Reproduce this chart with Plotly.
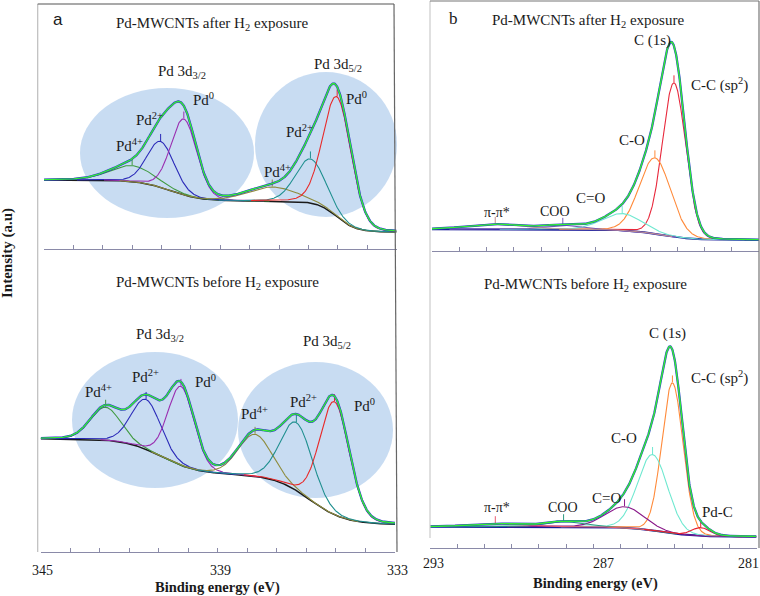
import numpy as np
import plotly.graph_objects as go

# ------------------------------------------------------------------ data
# Panel a (Pd 3d) - after H2 exposure: fitted components (centre eV, height a.u., FWHM eV)
A_AFTER_NAMES = ["Pd4+ 3d3/2", "Pd2+ 3d3/2", "Pd0 3d3/2", "Pd4+ 3d5/2", "Pd2+ 3d5/2", "Pd0 3d5/2"]
A_AFTER_CENTER = [342.0, 341.03, 340.24, 337.23, 335.93, 335.02]
A_AFTER_HEIGHT = [16, 46, 76, 14, 44, 120]
A_AFTER_FWHM = [1.8, 1.1, 1.05, 2.0, 1.2, 1.13]
A_AFTER_BG_LOW = 17
A_AFTER_BG_STEP_E = [335.04, 340.72]
A_AFTER_BG_STEP_W = [0.33, 0.52]
A_AFTER_BG_STEP_H = [31, 21]

# Panel a - before H2 exposure
A_BEFORE_NAMES = A_AFTER_NAMES
A_BEFORE_CENTER = [342.8, 341.43, 340.25, 337.74, 336.34, 335.05]
A_BEFORE_HEIGHT = [33, 50, 79, 42, 68, 113]
A_BEFORE_FWHM = [1.2, 1.18, 1.05, 1.35, 1.29, 1.18]
A_BEFORE_BG_LOW = 27.4
A_BEFORE_BG_STEP_E = [335.9, 340.92]
A_BEFORE_BG_STEP_W = [0.6, 0.61]
A_BEFORE_BG_STEP_H = [50.3, 35.6]

# Panel b (C 1s) - after H2 exposure
B_AFTER_NAMES = ["C-C (sp2)", "C-O", "C=O", "COO", "pi-pi*"]
B_AFTER_CENTER = [284.12, 284.82, 286.02, 288.2, 290.68]
B_AFTER_HEIGHT = [154, 76, 16.7, 4, 5]
B_AFTER_FWHM = [1.0, 1.35, 1.73, 1.6, 2.5]
B_AFTER_BG_LOW = 10.5
B_AFTER_BG_STEP_E = [284.64]
B_AFTER_BG_STEP_W = [0.6]
B_AFTER_BG_STEP_H = [10.7]

# Panel b - before H2 exposure
B_BEFORE_NAMES = ["C-C (sp2)", "C-O", "C=O", "COO", "pi-pi*", "Pd-C"]
B_BEFORE_CENTER = [284.09, 284.82, 285.85, 288.09, 290.6, 283.05]
B_BEFORE_HEIGHT = [150.5, 76, 21, 5, 3, 8.3]
B_BEFORE_FWHM = [0.92, 1.3, 1.66, 1.6, 2.2, 0.8]
B_BEFORE_BG_LOW = 11.3
B_BEFORE_BG_STEP_E = [284.53]
B_BEFORE_BG_STEP_W = [0.6]
B_BEFORE_BG_STEP_H = [10]

A_TICKS = list(range(345, 332, -1))
A_TICK_LABELS = [345, 339, 333]
B_TICKS = list(range(293, 280, -1))
B_TICK_LABELS = [293, 287, 281]

# ------------------------------------------------------------------ style
W, H = 760, 596
SERIF = "Liberation Serif, Times New Roman, serif"
A_COLORS = ["#3f9a3f", "#2a2ab8", "#9a2fb0", "#8e8c3e", "#1f8f8f", "#e82a2a"]
B_AFTER_COLORS = ["#e8283c", "#ff8a3a", "#6fe8d0", "#7a5ab8", "#c09090"]
B_BEFORE_COLORS = ["#ff8a3a", "#6fe8d0", "#8a1a8a", "#2a9a80", "#e85a70", "#e82030"]


def fx(x):
    return x / W


def fy(y):
    return 1 - y / H


def gl(e, c, h, w, m):
    d = (e - c) / w
    return h * ((1 - m) * np.exp(-4 * np.log(2) * d * d) + m / (1 + 4 * d * d))


def background(e, low, se, sw, sh):
    b = np.full_like(e, float(low))
    for c, w, h in zip(se, sw, sh):
        b = b + h / (1 + np.exp(-(e - c) / w))
    return b


fig = go.Figure()


def add_panel(xa, ya, erange, centers, heights, fwhms, colors, bg, mix, bgcolor, bgwidth, datacolor):
    e = np.linspace(erange[0], erange[1], 900)
    base = background(e, *bg)
    total = base.copy()
    comps = []
    for c, h, w, col in zip(centers, heights, fwhms, colors):
        p = gl(e, c, h, w, mix)
        total = total + p
        mask = np.abs(e - c) < 2.6 * w
        comps.append((e[mask], (base + p)[mask], col, c, h))
    fig.add_trace(go.Scatter(x=e, y=base, mode="lines", xaxis=xa, yaxis=ya,
                             line=dict(color=bgcolor, width=bgwidth), hoverinfo="skip"))
    for ex, yy, col, c, h in comps:
        fig.add_trace(go.Scatter(x=ex, y=yy, mode="lines", xaxis=xa, yaxis=ya,
                                 line=dict(color=col, width=1.1), hoverinfo="skip"))
        bc = background(np.array([c]), *bg)[0]
        fig.add_trace(go.Scatter(x=[c], y=[bc + h + 4], mode="markers", xaxis=xa, yaxis=ya,
                                 marker=dict(symbol="line-ns", size=5, line=dict(color=col, width=1)),
                                 hoverinfo="skip"))
    fig.add_trace(go.Scatter(x=e, y=total, mode="lines", xaxis=xa, yaxis=ya,
                             line=dict(color=datacolor, width=2.3), hoverinfo="skip"))
    fig.add_trace(go.Scatter(x=e, y=total, mode="lines", xaxis=xa, yaxis=ya,
                             line=dict(color="#33ee33", width=1.4), hoverinfo="skip"))


add_panel("x", "y", (345, 333), A_AFTER_CENTER, A_AFTER_HEIGHT, A_AFTER_FWHM, A_COLORS,
          (A_AFTER_BG_LOW, A_AFTER_BG_STEP_E, A_AFTER_BG_STEP_W, A_AFTER_BG_STEP_H), 0.1,
          "#1a1a1a", 1.5, "#2a2ad0")
add_panel("x2", "y2", (345, 333), A_BEFORE_CENTER, A_BEFORE_HEIGHT, A_BEFORE_FWHM, A_COLORS,
          (A_BEFORE_BG_LOW, A_BEFORE_BG_STEP_E, A_BEFORE_BG_STEP_W, A_BEFORE_BG_STEP_H), 0.1,
          "#1a1a1a", 1.5, "#2a2ad0")
add_panel("x3", "y3", (293, 281), B_AFTER_CENTER, B_AFTER_HEIGHT, B_AFTER_FWHM, B_AFTER_COLORS,
          (B_AFTER_BG_LOW, B_AFTER_BG_STEP_E, B_AFTER_BG_STEP_W, B_AFTER_BG_STEP_H), 0.05,
          "#1a1a9a", 2.0, "#2a40c8")
add_panel("x4", "y4", (293, 281), B_BEFORE_CENTER, B_BEFORE_HEIGHT, B_BEFORE_FWHM, B_BEFORE_COLORS,
          (B_BEFORE_BG_LOW, B_BEFORE_BG_STEP_E, B_BEFORE_BG_STEP_W, B_BEFORE_BG_STEP_H), 0.05,
          "#1a1a9a", 2.0, "#2a40c8")


def xaxis(dom, rng, ticks, anchor):
    return dict(domain=[fx(dom[0]), fx(dom[1])], range=list(rng), showline=True,
                linecolor="#8a8aa8", linewidth=1, ticks="inside", ticklen=4,
                tickcolor="#8a8aa8", tickvals=ticks, ticktext=[""] * len(ticks),
                showticklabels=False, showgrid=False, zeroline=False, automargin=False,
                fixedrange=True, anchor=anchor)


def yaxis(anchor, top, bottom):
    return dict(domain=[fy(bottom), fy(top)], range=[0, bottom - top], visible=False,
                anchor=anchor, fixedrange=True, automargin=False)


fig.update_layout(
    width=W, height=H, margin=dict(l=0, r=0, t=0, b=0, autoexpand=False),
    paper_bgcolor="white", plot_bgcolor="rgba(0,0,0,0)", showlegend=False,
    xaxis=xaxis((44, 396.5), (345, 333), A_TICKS, "y"),
    yaxis=yaxis("x", 4, 249),
    xaxis2=xaxis((40.7, 395), (345, 333), A_TICKS, "y2"),
    yaxis2=yaxis("x2", 256, 552),
    xaxis3=xaxis((432, 759), (293, 281), B_TICKS, "y3"),
    yaxis3=yaxis("x3", 1, 250.5),
    xaxis4=xaxis((430, 756.5), (293, 281), B_TICKS, "y4"),
    yaxis4=yaxis("x4", 256, 548),
)

ELL = "rgba(190,214,240,0.85)"
shapes = []
for x0, x1, y0, y1 in [(80, 254, 88, 218), (255, 397, 72, 217), (72, 238, 352, 488), (238, 393, 362, 498)]:
    shapes.append(dict(type="circle", xref="paper", yref="paper", x0=fx(x0), x1=fx(x1),
                       y0=fy(y1), y1=fy(y0), fillcolor=ELL, line=dict(width=0), layer="below"))


def line(x0, y0, x1, y1, col, w=1.2):
    shapes.append(dict(type="line", xref="paper", yref="paper", x0=fx(x0), y0=fy(y0),
                       x1=fx(x1), y1=fy(y1), line=dict(color=col, width=w)))


line(37.7, 4, 37.7, 552, "#bdbdbd")
line(37.7, 4, 394, 4, "#555555")
line(394, 4, 397, 552, "#666666")
line(430, 1, 430, 538, "#cccccc")
line(430, 1, 759, 1, "#777777")
line(759, 1, 759, 548, "#777777")
fig.update_layout(shapes=shapes)

ann = []


def text(x, y, s, size=15, bold=False, family=SERIF, angle=0):
    if bold:
        s = "<b>" + s + "</b>"
    ann.append(dict(x=fx(x), y=fy(y), xref="paper", yref="paper", text=s, showarrow=False,
                    font=dict(family=family, size=size, color="#1a1a1a"), textangle=angle,
                    xanchor="center", yanchor="middle"))


# tick labels (placed under the matching ticks)
for v, x in zip(A_TICK_LABELS, (42, 220, 397)):
    text(x, 570, str(v), 14)
for v, x in zip(B_TICK_LABELS, (433, 603, 748)):
    text(x, 563, str(v), 14)

text(58, 20, "a", 17, family="Liberation Sans, Arial, sans-serif")
text(212, 24, "Pd-MWCNTs after H<sub>2</sub> exposure", 15)
text(182, 72, "Pd 3d<sub>3/2</sub>", 15)
text(338, 65, "Pd 3d<sub>5/2</sub>", 15)
text(203, 99, "Pd<sup>0</sup>", 15)
text(149, 119, "Pd<sup>2+</sup>", 15)
text(129, 145, "Pd<sup>4+</sup>", 15)
text(277, 171, "Pd<sup>4+</sup>", 15)
text(299, 131, "Pd<sup>2+</sup>", 15)
text(356, 98, "Pd<sup>0</sup>", 15)

text(217, 283, "Pd-MWCNTs before H<sub>2</sub> exposure", 15)
text(160, 335, "Pd 3d<sub>3/2</sub>", 15)
text(327, 342, "Pd 3d<sub>5/2</sub>", 15)
text(98, 391, "Pd<sup>4+</sup>", 15)
text(145, 376, "Pd<sup>2+</sup>", 15)
text(205, 381, "Pd<sup>0</sup>", 15)
text(254, 413, "Pd<sup>4+</sup>", 15)
text(303, 401, "Pd<sup>2+</sup>", 15)
text(364, 405, "Pd<sup>0</sup>", 15)

text(453, 18, "b", 17)
text(588, 21, "Pd-MWCNTs after H<sub>2</sub> exposure", 15)
text(652, 40, "C (1s)", 15)
text(719, 84, "C-C (sp<sup>2</sup>)", 15)
text(632, 140, "C-O", 15)
text(590, 198, "C=O", 15)
text(555, 211, "COO", 14)
text(497, 212, "π-π*", 14)

text(585, 285, "Pd-MWCNTs before H<sub>2</sub> exposure", 15)
text(667, 333, "C (1s)", 15)
text(719, 377, "C-C (sp<sup>2</sup>)", 15)
text(624, 438, "C-O", 15)
text(606, 498, "C=O", 15)
text(563, 507, "COO", 14)
text(497, 507, "π-π*", 14)
text(717, 512, "Pd-C", 15)

text(8, 253, "Intensity (a.u)", 15, bold=True, angle=-90)
text(217, 587, "Binding energy (eV)", 14.5, bold=True)
text(595, 583, "Binding energy (eV)", 14.5, bold=True)

fig.update_layout(annotations=ann)
fig.write_html("out.html", config={"displayModeBar": False},
               post_script="document.body.style.margin='0px';document.body.style.overflow='hidden';")
